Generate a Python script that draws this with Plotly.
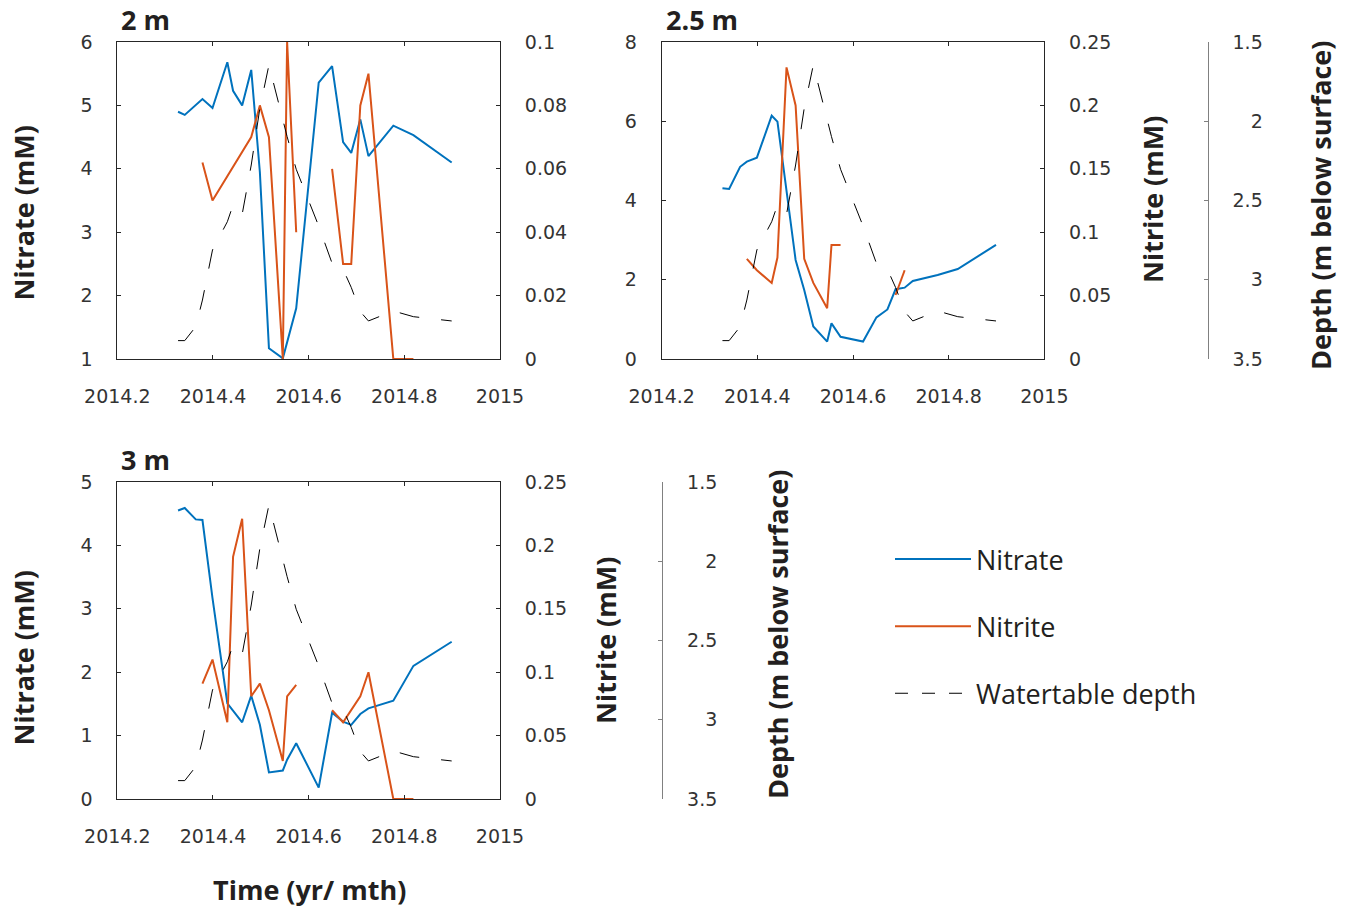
import plotly.graph_objects as go

W, H = 1349, 909
BLUE = '#0072BD'
ORANGE = '#D95319'
AXC = '#262626'
TXT = '#231f20'
TICKC = '#333333'

# ---------------- data ----------------
x_ticks = [2014.2, 2014.4, 2014.6, 2014.8, 2015.0]
x_labels = ['2014.2', '2014.4', '2014.6', '2014.8', '2015']

# watertable depth (m below surface), same for all panels
depth_t = [2014.327, 2014.341, 2014.364, 2014.378, 2014.399, 2014.430, 2014.442, 2014.461,
           2014.480, 2014.498, 2014.517, 2014.546, 2014.555, 2014.574, 2014.621, 2014.649,
           2014.672, 2014.689, 2014.708, 2014.725, 2014.777, 2014.819, 2014.899]
depth = [3.384, 3.384, 3.296, 3.128, 2.812, 2.634, 2.528, 2.587,
         2.276, 1.918, 1.645, 1.992, 2.097, 2.303, 2.661, 2.896,
         2.934, 3.048, 3.201, 3.260, 3.197, 3.233, 3.260]

# 2 m
no3_2m_t = [2014.327, 2014.341, 2014.378, 2014.399, 2014.430, 2014.442, 2014.461, 2014.480,
            2014.498, 2014.517, 2014.546, 2014.555, 2014.574, 2014.621, 2014.649, 2014.672,
            2014.689, 2014.708, 2014.725, 2014.777, 2014.819, 2014.899]
no3_2m = [4.90, 4.85, 5.10, 4.96, 5.68, 5.23, 5.00, 5.56,
          3.95, 1.17, 1.01, 1.25, 1.80, 5.36, 5.62, 4.42,
          4.25, 4.78, 4.20, 4.68, 4.53, 4.10]
no2_2m_t = [2014.378, 2014.399, 2014.480, 2014.498, 2014.517, 2014.546, 2014.555, 2014.574,
            None, 2014.649, 2014.672, 2014.689, 2014.708, 2014.725, 2014.777, 2014.819]
no2_2m = [0.062, 0.050, 0.070, 0.080, 0.070, 0.0, 0.10, 0.040,
          None, 0.060, 0.030, 0.030, 0.080, 0.090, 0.0, 0.0]

# 2.5 m
no3_25_t = [2014.327, 2014.341, 2014.364, 2014.378, 2014.399, 2014.430, 2014.442, 2014.480,
            2014.498, 2014.517, 2014.546, 2014.555, 2014.574, 2014.621, 2014.649, 2014.672,
            2014.689, 2014.708, 2014.725, 2014.777, 2014.819, 2014.899]
no3_25 = [4.31, 4.29, 4.85, 4.98, 5.08, 6.14, 5.99, 2.50,
          1.74, 0.82, 0.44, 0.90, 0.56, 0.44, 1.05, 1.25,
          1.76, 1.80, 1.97, 2.12, 2.27, 2.88]
no2_25_t = [2014.378, 2014.399, 2014.430, 2014.442, 2014.461, 2014.480, 2014.498, 2014.517,
            2014.546, 2014.555, 2014.574, None, 2014.689, 2014.708]
no2_25 = [0.079, 0.070, 0.060, 0.080, 0.230, 0.200, 0.079, 0.060,
          0.040, 0.090, 0.090, None, 0.0505, 0.070]

# 3 m
no3_3_t = [2014.327, 2014.341, 2014.364, 2014.378, 2014.399, 2014.430, 2014.461, 2014.480,
           2014.498, 2014.517, 2014.546, 2014.555, 2014.574, 2014.621, 2014.649, 2014.672,
           2014.689, 2014.708, 2014.725, 2014.777, 2014.819, 2014.899]
no3_3 = [4.55, 4.59, 4.41, 4.40, 3.17, 1.51, 1.21, 1.63,
         1.17, 0.42, 0.45, 0.62, 0.88, 0.18, 1.36, 1.22,
         1.17, 1.34, 1.43, 1.55, 2.10, 2.48]
no2_3_t = [2014.378, 2014.399, 2014.430, 2014.442, 2014.461, 2014.480, 2014.498, 2014.517,
           2014.546, 2014.555, 2014.574, None, 2014.649, 2014.672, 2014.708, 2014.725,
           2014.777, 2014.819]
no2_3 = [0.091, 0.110, 0.0605, 0.191, 0.221, 0.081, 0.091, 0.070,
         0.030, 0.081, 0.090, None, 0.070, 0.0605, 0.081, 0.100,
         0.0, 0.0]

depth_ticks = [1.5, 2.0, 2.5, 3.0, 3.5]
depth_labels = ['1.5', '\u2007\u20082', '2.5', '\u2007\u20083', '3.5']

panels = [
    dict(title='2 m', no3_t=no3_2m_t, no3=no3_2m, no2_t=no2_2m_t, no2=no2_2m,
         no3_range=[1, 6], no3_ticks=[1, 2, 3, 4, 5, 6],
         no2_range=[0, 0.1], no2_ticks=[0, 0.02, 0.04, 0.06, 0.08, 0.1],
         no2_labels=['0', '0.02', '0.04', '0.06', '0.08', '0.1'],
         box=(117.3, 500.0, 42, 359), depth_pos=None, nitrite_title=None, depth_title=None,
         nitrate_title=(22.5, 213)),
    dict(title='2.5 m', no3_t=no3_25_t, no3=no3_25, no2_t=no2_25_t, no2=no2_25,
         no3_range=[0, 8], no3_ticks=[0, 2, 4, 6, 8],
         no2_range=[0, 0.25], no2_ticks=[0, 0.05, 0.1, 0.15, 0.2, 0.25],
         no2_labels=['0', '0.05', '0.1', '0.15', '0.2', '0.25'],
         box=(661.7, 1044.3, 42, 359), depth_pos=1207.7, nitrite_title=(1152, 200),
         depth_title=(1320, 206), nitrate_title=None),
    dict(title='3 m', no3_t=no3_3_t, no3=no3_3, no2_t=no2_3_t, no2=no2_3,
         no3_range=[0, 5], no3_ticks=[0, 1, 2, 3, 4, 5],
         no2_range=[0, 0.25], no2_ticks=[0, 0.05, 0.1, 0.15, 0.2, 0.25],
         no2_labels=['0', '0.05', '0.1', '0.15', '0.2', '0.25'],
         box=(117.3, 500.0, 482, 799), depth_pos=662.3, nitrite_title=(605, 641),
         depth_title=(777, 635), nitrate_title=(22.5, 658)),
]


def px(v):
    return v / W


def py(v):
    return 1 - v / H


tickfont = dict(family='DejaVu Sans', size=19, color=TICKC)
boldfont = dict(family='Open Sans', size=27, color=TXT, weight='bold')

fig = go.Figure()
layout = dict(width=W, height=H, margin=dict(l=0, r=0, t=0, b=0, pad=0, autoexpand=False),
              paper_bgcolor='white', plot_bgcolor='white', showlegend=True)
annotations = []

for i, p in enumerate(panels):
    xs = '' if i == 0 else str(i + 1)
    n1 = 3 * i + 1
    n2, n3 = n1 + 1, n1 + 2
    y1 = 'y' if n1 == 1 else 'y%d' % n1
    y2, y3 = 'y%d' % n2, 'y%d' % n3
    xid = 'x' + xs
    x0, x1, top, bot = p['box']

    fig.add_trace(go.Scatter(x=depth_t, y=depth, mode='lines', xaxis=xid, yaxis=y3,
                             line=dict(color='black', width=1, dash='20px,22px'),
                             showlegend=False, hoverinfo='skip'))
    fig.add_trace(go.Scatter(x=p['no3_t'], y=p['no3'], mode='lines', xaxis=xid, yaxis=y1,
                             line=dict(color=BLUE, width=2), showlegend=False))
    fig.add_trace(go.Scatter(x=p['no2_t'], y=p['no2'], mode='lines', xaxis=xid, yaxis=y2,
                             line=dict(color=ORANGE, width=2), showlegend=False,
                             connectgaps=False))

    layout['xaxis' + xs] = dict(domain=[px(x0), px(x1)], anchor=y1, range=[2014.2, 2015.0],
                                tickvals=x_ticks, ticktext=x_labels, ticks='inside', ticklen=4,
                                tickcolor=AXC, showline=True, linecolor=AXC, linewidth=1,
                                mirror='ticks', showgrid=False, zeroline=False,
                                tickfont=tickfont, ticklabelstandoff=20, automargin=False)
    layout['yaxis' + ('' if n1 == 1 else str(n1))] = dict(
        domain=[py(bot), py(top)], anchor=xid, range=p['no3_range'], tickvals=p['no3_ticks'],
        ticks='inside', ticklen=4, tickcolor=AXC, showline=True, linecolor=AXC, linewidth=1,
        showgrid=False, zeroline=False, tickfont=tickfont, ticklabelstandoff=20,
        automargin=False)
    layout['yaxis%d' % n2] = dict(
        overlaying=y1, side='right', anchor=xid, range=p['no2_range'], tickvals=p['no2_ticks'],
        ticktext=p['no2_labels'], ticks='inside', ticklen=4, tickcolor=AXC, showline=True,
        linecolor=AXC, linewidth=1, showgrid=False, zeroline=False, tickfont=tickfont,
        ticklabelstandoff=20, automargin=False)
    if p['depth_pos'] is None:
        layout['yaxis%d' % n3] = dict(overlaying=y1, side='right', range=[3.5, 1.5],
                                      visible=False, showgrid=False, zeroline=False)
    else:
        layout['yaxis%d' % n3] = dict(
            overlaying=y1, side='right', anchor='free', position=px(p['depth_pos']),
            range=[3.5, 1.5], tickvals=depth_ticks, ticktext=depth_labels, ticks='inside',
            ticklen=4, tickcolor='#808080', showline=True, linecolor='#808080', linewidth=1,
            showgrid=False, zeroline=False, tickfont=tickfont, ticklabelstandoff=20,
            automargin=False)

    annotations.append(dict(text=p['title'], xref='paper', yref='paper', x=px(x0 + 2),
                            y=py(top - 22.5), xanchor='left', yanchor='middle',
                            showarrow=False, font=boldfont))
    for key, txt in (('nitrate_title', 'Nitrate (mM)'), ('nitrite_title', 'Nitrite (mM)'),
                     ('depth_title', 'Depth (m below surface)')):
        if p[key] is not None:
            cx, cy = p[key]
            annotations.append(dict(text=txt, xref='paper', yref='paper', x=px(cx), y=py(cy),
                                    xanchor='center', yanchor='middle', textangle=-90,
                                    showarrow=False, font=boldfont))

annotations.append(dict(text='Time (yr/ mth)', xref='paper', yref='paper', x=px(309),
                        y=py(889.5), xanchor='center', yanchor='middle', showarrow=False,
                        font=boldfont))

# legend entries (empty traces only used as legend keys)
legend_items = [('Nitrate', BLUE, 2, 'solid'), ('Nitrite', ORANGE, 2, 'solid'),
                ('Watertable depth', 'black', 1, '13px,14px')]
for k, (name, col, wd, ds) in enumerate(legend_items):
    fig.add_trace(go.Scatter(x=[None], y=[None], mode='lines', name=name,
                             line=dict(color=col, width=wd, dash=ds),
                             legendgroup='g%d' % k, showlegend=True, xaxis='x3', yaxis='y7'))

layout['legend'] = dict(x=px(890), y=py(535), xanchor='left', yanchor='top',
                        font=dict(family='Open Sans', size=27, color=TXT),
                        traceorder='grouped', tracegroupgap=29, itemwidth=76,
                        bgcolor='rgba(0,0,0,0)', borderwidth=0)
layout['annotations'] = annotations
fig.update_layout(**layout)
fig.write_html('out.html', config={'displayModeBar': False},
               post_script="document.body.style.margin='0px';"
                           "document.body.style.overflow='hidden';")
